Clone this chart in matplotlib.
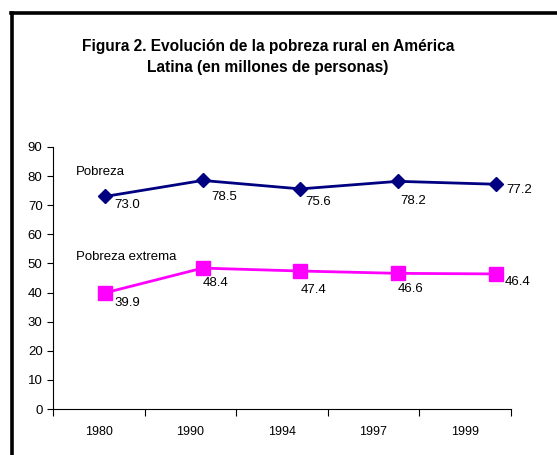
import matplotlib.pyplot as plt
from matplotlib.lines import Line2D

years = ['1980', '1990', '1994', '1997', '1999']
pobreza = [73.0, 78.5, 75.6, 78.2, 77.2]
extrema = [39.9, 48.4, 47.4, 46.6, 46.4]
pob_labels = ['73.0', '78.5', '75.6', '78.2', '77.2']
ext_labels = ['39.9', '48.4', '47.4', '46.6', '46.4']

plt.rcParams['font.family'] = ['Liberation Sans', 'DejaVu Sans']

fig = plt.figure(figsize=(5.57, 4.55), dpi=100)
ax = fig.add_axes([0.0952, 0.101, 0.822, 0.576])

x = list(range(len(years)))

ax.set_xlim(-0.5, 4.5)
ax.set_ylim(0, 90)
ax.set_yticks(range(0, 91, 10))
ax.set_xticks([i + 0.5 for i in range(-1, 5)])
ax.set_xticklabels([])
ax.set_xticks(x, minor=True)
ax.set_xticklabels(years, minor=True, fontsize=9)
ax.tick_params(axis='x', which='minor', length=0, pad=12)
ax.tick_params(axis='x', which='major', length=5, direction='out', width=0.8)
ax.tick_params(axis='y', length=4, labelsize=9.5, width=0.8)
for s in ['top', 'right']:
    ax.spines[s].set_visible(False)
ax.spines['left'].set_linewidth(0.8)
ax.spines['bottom'].set_linewidth(0.8)

# the original draws the series on a slightly wider spacing than the category labels
lx = ax.twiny()
lx.set_xlim(-0.532, 4.156)
lx.set_ylim(0, 90)
lx.axis('off')

lx.plot(x, pobreza, color='#000080', lw=2, marker='D', ms=7)
lx.plot(x, extrema, color='#ff00ff', lw=2, marker='s', ms=10)

# label offsets in points (right/down of each marker, like the original)
pob_off = [(7, -6.5), (6, -12), (3.5, -9.5), (1.5, -14), (8, -4.5)]
for i, (v, t) in enumerate(zip(pobreza, pob_labels)):
    lx.annotate(t, (i, v), xytext=pob_off[i], textcoords='offset points',
                fontsize=9.5, va='center', ha='left')
ext_off = [(6.5, -7), (0, -11), (0, -14), (0, -11), (6.5, -6)]
for i, (v, t) in enumerate(zip(extrema, ext_labels)):
    lx.annotate(t, (i, v), xytext=ext_off[i], textcoords='offset points',
                fontsize=9.5, va='center', ha='left')

ax.text(-0.25, 81.5, 'Pobreza', fontsize=9.5, va='center')
ax.text(-0.25, 52.2, 'Pobreza extrema', fontsize=9.5, va='center')

fig.text(0.481, 0.897, 'Figura 2. Evolución de la pobreza rural en América',
         ha='center', va='center', fontsize=11.2, fontweight='bold')
fig.text(0.481, 0.851, 'Latina (en millones de personas)',
         ha='center', va='center', fontsize=11.2, fontweight='bold')

# frame (only left and top visible)
fig.add_artist(Line2D([0.0215, 0.0215], [0, 0.9725], color='black', lw=2.6, transform=fig.transFigure))
fig.add_artist(Line2D([0.0195, 1.0], [0.9725, 0.9725], color='black', lw=2.6, transform=fig.transFigure))

fig.savefig('out.png', dpi=100)
